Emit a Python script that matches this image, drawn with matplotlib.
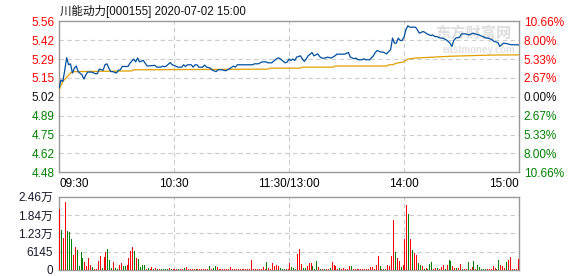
import matplotlib
matplotlib.use('Agg')
import matplotlib.pyplot as plt

plt.rcParams['font.family'] = ['Liberation Sans', 'Noto Sans CJK SC']

title = '川能动力[000155] 2020-07-02 15:00'

# minute-of-session (0 = 09:30, 240 = 15:00) and price keypoints
price_t = [0, 1, 2, 3, 4, 5, 6, 7, 8, 9, 10, 12, 13, 14, 15, 17, 19, 20, 21, 23,
           24, 25, 26, 27, 28, 30, 31, 32, 33, 36, 37, 39, 40, 41, 42, 44, 45, 46, 50, 51,
           53, 54, 55, 56, 58, 59, 60, 62, 64, 65, 66, 67, 69, 70, 71, 72, 73, 75, 76, 77,
           79, 80, 82, 83, 85, 87, 88, 90, 91, 92, 93, 101, 102, 104, 106, 108, 109, 111, 112, 114,
           115, 116, 118, 119, 120, 121, 122, 123, 124, 126, 127, 128, 129, 130, 132, 133, 135, 136, 137, 139,
           140, 142, 144, 145, 149, 151, 152, 154, 155, 156, 158, 159, 160, 162, 164, 165, 166, 168, 169, 171,
           172, 173, 174, 175, 176, 177, 178, 179, 180, 181, 182, 183, 186, 187, 188, 190, 191, 192, 194, 195,
           196, 197, 199, 200, 202, 203, 204, 205, 206, 207, 209, 210, 212, 214, 216, 217, 219, 221, 223, 224,
           226, 227, 229, 230, 232, 234, 236, 240]
price = [5.08, 5.14, 5.13, 5.21, 5.30, 5.25, 5.255, 5.19, 5.225, 5.24, 5.20, 5.177, 5.147, 5.177, 5.197, 5.197, 5.185, 5.185, 5.218, 5.21,
         5.249, 5.256, 5.225, 5.20, 5.20, 5.19, 5.21, 5.213, 5.237, 5.237, 5.26, 5.29, 5.27, 5.297, 5.27, 5.28, 5.26, 5.24, 5.245, 5.232,
         5.232, 5.24, 5.235, 5.24, 5.265, 5.25, 5.245, 5.232, 5.232, 5.249, 5.237, 5.249, 5.249, 5.232, 5.249, 5.249, 5.232, 5.232, 5.247, 5.232,
         5.225, 5.21, 5.20, 5.213, 5.213, 5.206, 5.213, 5.23, 5.24, 5.232, 5.249, 5.249, 5.256, 5.256, 5.27, 5.27, 5.263, 5.263, 5.275, 5.297,
         5.297, 5.285, 5.263, 5.268, 5.29, 5.28, 5.29, 5.28, 5.304, 5.313, 5.29, 5.273, 5.292, 5.313, 5.337, 5.313, 5.327, 5.308, 5.297, 5.297,
         5.304, 5.297, 5.313, 5.325, 5.325, 5.337, 5.304, 5.292, 5.297, 5.285, 5.285, 5.292, 5.285, 5.285, 5.313, 5.337, 5.351, 5.34, 5.34, 5.327,
         5.344, 5.356, 5.44, 5.404, 5.404, 5.44, 5.423, 5.423, 5.447, 5.499, 5.528, 5.518, 5.518, 5.499, 5.475, 5.487, 5.48, 5.47, 5.458, 5.463,
         5.451, 5.451, 5.44, 5.44, 5.428, 5.416, 5.404, 5.38, 5.423, 5.44, 5.447, 5.47, 5.47, 5.463, 5.475, 5.47, 5.463, 5.451, 5.44, 5.44,
         5.428, 5.416, 5.408, 5.38, 5.404, 5.399, 5.392, 5.392]

avg_t = [0, 2, 4, 6, 8, 38, 39, 109, 110, 126, 127, 143, 144, 171, 172, 174, 176, 180, 182, 186, 190, 204, 224, 240]
avg_price = [5.07, 5.13, 5.16, 5.19, 5.20, 5.205, 5.213, 5.218, 5.225, 5.225, 5.232, 5.232, 5.24, 5.24, 5.249, 5.249,
             5.26, 5.27, 5.29, 5.297, 5.30, 5.31, 5.318, 5.32]

# per-minute volume (shares) and direction (r = up, g = down)
volume = [20440, 13400, 10610, 22900, 13070, 12620, 10280, 5030, 7600, 6700,
          1340, 5920, 3910, 2570, 1340, 3910, 1680, 1120, 340, 340,
          3020, 4690, 780, 4470, 5920, 7040, 3350, 560, 2570, 560,
          340, 1680, 2230, 1340, 1340, 1680, 4130, 6370, 7600, 6370,
          4130, 3570, 1120, 1680, 1680, 340, 780, 340, 1000, 340,
          560, 340, 340, 340, 340, 340, 340, 560, 340, 340,
          340, 340, 340, 340, 340, 780, 1000, 340, 340, 340,
          340, 340, 340, 340, 340, 340, 340, 340, 1340, 340,
          780, 1340, 1000, 340, 340, 340, 340, 340, 340, 1000,
          340, 340, 340, 340, 340, 340, 340, 340, 340, 340,
          3350, 340, 340, 340, 340, 340, 1000, 340, 2680, 560,
          340, 2340, 1450, 1680, 1340, 780, 340, 340, 340, 340,
          2340, 1000, 560, 340, 5360, 7040, 2010, 780, 560, 1340,
          2340, 2340, 1340, 340, 3020, 1120, 340, 340, 340, 340,
          340, 560, 2680, 1680, 1450, 340, 560, 340, 560, 340,
          340, 1340, 1340, 340, 340, 340, 340, 340, 340, 340,
          340, 340, 1000, 1000, 340, 1680, 4690, 1340, 340, 340,
          340, 1680, 1340, 4690, 16760, 6030, 4020, 3020, 1000, 1680,
          10280, 21670, 18880, 10280, 6630, 5580, 5030, 2230, 1680, 1340,
          340, 560, 340, 2010, 2570, 340, 670, 670, 340, 1120,
          1680, 340, 1680, 3240, 3020, 1340, 670, 670, 670, 2010,
          340, 340, 340, 2680, 340, 1120, 3020, 340, 1680, 1000,
          340, 340, 340, 340, 340, 340, 1340, 670, 340, 3350,
          1680, 1340, 670, 2680, 3350, 4350, 340, 340, 340, 3690]
direction = ('rgrrgggrrg' 'gggrrrrgrr' 'rrgrrgggrg' 'grrggrrrrg' 'rggggrgrrg'
             'rgrggggrgr' 'rrgrrgrrrr' 'rgrrrrrrgr' 'ggrrrrrrrr' 'rrrrrrrrrr'
             'rrrrrrrrgr' 'rrrrrgggrr' 'rgggrrrggr' 'rrgggrgrgr' 'rgrrrrgrrr'
             'rrgrrrrrrr' 'rrrrrrrgrg' 'rrrrrgrrgr' 'rrgrgrrggr' 'grgggrrgrr'
             'rgrggrrgrr' 'grrgrrgrgg' 'gggrrrrrgg' 'rrrgrrrrrr')

price_ticks = [4.48, 4.615, 4.75, 4.885, 5.02, 5.155, 5.29, 5.425, 5.56]
price_labels = ['4.48', '4.62', '4.75', '4.89', '5.02', '5.15', '5.29', '5.42', '5.56']
pct_labels = ['10.66%', '8.00%', '5.33%', '2.67%', '0.00%', '2.67%', '5.33%', '8.00%', '10.66%']
time_ticks = [0, 60, 120, 180, 240]
time_labels = ['09:30', '10:30', '11:30/13:00', '14:00', '15:00']
vol_ticks = [0, 6145, 12290, 18435, 24580]
vol_labels = ['0', '6145', '1.23万', '1.84万', '2.46万']

RED = '#ff0000'
GREEN = '#008000'
BLUE = '#0050a0'
GOLD = '#e0a000'
BORDER = '#999999'
GRID = '#cccccc'
FS = 8.5

fig = plt.figure(figsize=(5.78, 2.76), dpi=100)
ax = fig.add_axes([59 / 578, 1 - 172.3 / 276, 460 / 578, 151 / 276])
axv = fig.add_axes([59 / 578, 1 - 270 / 276, 460 / 578, 73.3 / 276])

def style(a):
    for s in a.spines.values():
        s.set_color(BORDER)
        s.set_linewidth(1.0)
    a.set_xlim(0, 240)
    a.tick_params(length=0, labelsize=FS)

# price panel
style(ax)
ax.set_ylim(4.48, 5.56)
ax.set_yticks(price_ticks)
ax.set_yticklabels(price_labels)
ax.tick_params(axis='y', pad=3)
for i, lab in enumerate(ax.get_yticklabels()):
    lab.set_color(GREEN if i < 4 else ('#111111' if i == 4 else RED))
ax.set_xticks(time_ticks)
ax.set_xticklabels(time_labels)
ax.tick_params(axis='x', pad=4)
xl = ax.get_xticklabels()
xl[0].set_horizontalalignment('left')
xl[-1].set_horizontalalignment('right')
for y in price_ticks[1:-1]:
    ax.axhline(y, color=GRID, lw=0.8, ls=(0, (4, 3)), zorder=1)
for x in time_ticks[1:-1]:
    ax.axvline(x, color=GRID, lw=0.8, ls=(0, (4, 3)), zorder=1)

# faint watermark
ax.text(196, 5.48, '东方财富网', color='#dedede', fontsize=11, fontweight='bold',
        family=['Noto Sans CJK SC'], va='center', ha='left', zorder=1)
ax.text(200, 5.352, 'eastmoney.com', color='#e2e2e2', fontsize=7, fontweight='bold',
        va='center', ha='left', zorder=1)

ax.plot(avg_t, avg_price, color=GOLD, lw=0.9, zorder=3)
ax.plot(price_t, price, color=BLUE, lw=0.9, zorder=4)

axr = ax.twinx()
axr.set_ylim(4.48, 5.56)
axr.set_yticks(price_ticks)
axr.set_yticklabels(pct_labels[::-1])
axr.tick_params(length=0, labelsize=FS, pad=3.5)
for s in axr.spines.values():
    s.set_visible(False)
for i, lab in enumerate(axr.get_yticklabels()):
    lab.set_color(GREEN if i < 4 else ('#111111' if i == 4 else RED))

# volume panel
style(axv)
axv.set_ylim(0, 24580)
axv.set_yticks(vol_ticks)
axv.set_yticklabels(vol_labels, color='#1a1a2e')
axv.tick_params(axis='y', pad=4.5)
axv.set_xticks([])
for y in vol_ticks[1:-1]:
    axv.axhline(y, color=GRID, lw=0.8, ls=(0, (4, 3)), zorder=1)
for x in time_ticks[1:-1]:
    axv.axvline(x, color=GRID, lw=0.8, ls=(0, (4, 3)), zorder=1)
bar_x = [i + 0.5 for i in range(len(volume))]
bar_c = [RED if d == 'r' else GREEN for d in direction]
axv.bar(bar_x, volume, width=0.55, color=bar_c, linewidth=0, zorder=3)

fig.text(60 / 578, 1 - 11 / 276, title, fontsize=8.3, va='center', ha='left', color='#111111')

fig.savefig('out.png', dpi=100)
